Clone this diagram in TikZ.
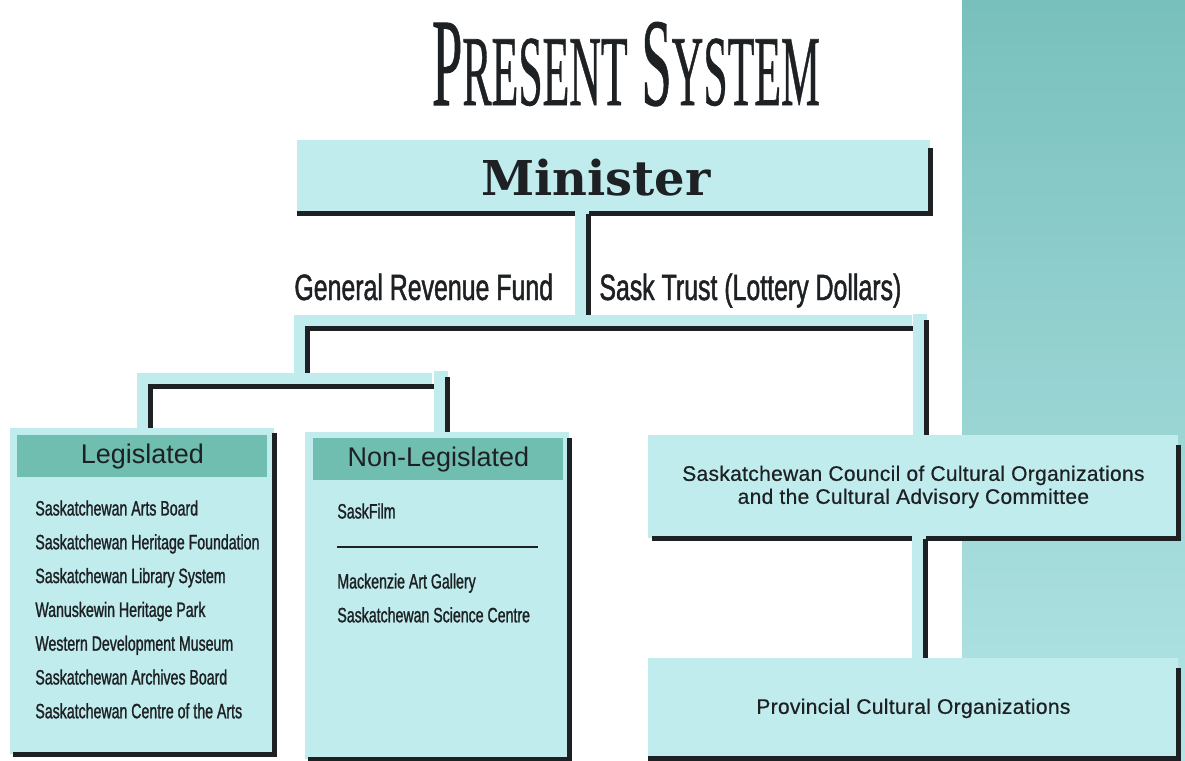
\documentclass[tikz,border=0pt]{standalone}
\usepackage{fontspec}
\usepackage{graphicx}
\usepackage{tikz}

\setmainfont{Liberation Sans}
\newfontfamily\titlefont[FakeBold=0.8]{Liberation Serif}
\newfontfamily\ministerfont{DejaVu Serif}
\newfontfamily\narrowfont[FakeStretch=0.68, FakeBold=1.2]{Liberation Sans}
\newfontfamily\trackfont[LetterSpace=1.5, FakeBold=0.6]{Liberation Sans}

\definecolor{boxcyan}{RGB}{192,236,238}
\definecolor{headteal}{RGB}{112,190,176}
\definecolor{bandtop}{RGB}{120,192,188}
\definecolor{bandlow}{RGB}{180,229,230}
\definecolor{ink}{RGB}{30,33,35}

\tikzset{
	box/.style={fill=boxcyan, inner sep=0pt, anchor=north west},
	headbar/.style={fill=headteal, inner sep=0pt, anchor=north west, minimum width=125pt, minimum height=21pt, text=ink, font=\fontsize{13.5pt}{16pt}\selectfont},
	boxedge/.style={draw=ink, line width=2.5pt},
	linkbar/.style={draw=ink, line width=2.5pt, preaction={draw=boxcyan, line width=7pt, shorten >=-3pt, transform canvas={shift={(-3pt,3pt)}}}},
	itemlist/.style={anchor=north west, inner sep=0pt, align=left, text=ink, font=\narrowfont\fontsize{10.4pt}{16.9pt}\selectfont},
	fundlabel/.style={anchor=base west, inner sep=0pt, text=ink, font=\narrowfont\fontsize{18.3pt}{20pt}\selectfont},
}

\begin{document}
\begin{tikzpicture}[x=0.5pt, y=-0.5pt]
					\fill[white] (0,0) rectangle (1185,761);
					\useasboundingbox (0,0) rectangle (1185,761);
					\fill[top color=bandtop, bottom color=bandlow] (962,0) rectangle (1185,761);

					% title
					\node[anchor=base, inner sep=0pt, text=ink] (title) at (626,105) {\resizebox{194pt}{41.5pt}{\titlefont\fontsize{40pt}{40pt}\selectfont P\fontsize{32pt}{32pt}\selectfont RESENT\fontsize{40pt}{40pt}\selectfont\ S\fontsize{32pt}{32pt}\selectfont YSTEM}};

					% boxes
					\node[box, minimum width=316.5pt, minimum height=36.5pt] (minister) at (297,140) {};
					\node[anchor=base, text=ink, font=\ministerfont\bfseries\fontsize{24pt}{28pt}\selectfont] (ministertext) at (596,195) {Minister};

					\node[box, minimum width=132pt, minimum height=163pt] (legis) at (10,428) {};
					\node[headbar] (legishead) at (17,435) {Legislated};
					\node[itemlist] (legislist) at (35,500) {Saskatchewan Arts Board\\Saskatchewan Heritage Foundation\\Saskatchewan Library System\\Wanuskewin Heritage Park\\Western Development Museum\\Saskatchewan Archives Board\\Saskatchewan Centre of the Arts};

					\node[box, minimum width=132pt, minimum height=163.5pt] (nonleg) at (305,432) {};
					\node[headbar] (nonleghead) at (313,438) {Non-Legislated};
					\node[itemlist] (saskfilm) at (337,503) {SaskFilm};
					\draw[ink, line width=0.8pt] (337,547) -- (538,547);
					\node[itemlist] (gallery) at (337,573) {Mackenzie Art Gallery\\Saskatchewan Science Centre};

					\node[box, minimum width=265pt, minimum height=51.5pt, align=center, text=ink, font=\trackfont\fontsize{10.5pt}{11.5pt}\selectfont] (council) at (648,435) {Saskatchewan Council of Cultural Organizations\\and the Cultural Advisory Committee};
					\node[box, minimum width=265pt, minimum height=50pt, text=ink, font=\trackfont\fontsize{10.5pt}{11.5pt}\selectfont] (provinc) at (648,658) {Provincial Cultural Organizations};

					\draw[boxedge] ([yshift=-4pt]minister.north east) -- (minister.south east) -- (minister.south west);
					\draw[boxedge] ([yshift=-2.5pt]legis.north east) -- (legis.south east) -- ([xshift=1.5pt]legis.south west);
					\draw[boxedge] ([yshift=-3pt]nonleg.north east) -- (nonleg.south east) -- ([xshift=1.5pt]nonleg.south west);
					\draw[boxedge] ([yshift=-5pt]council.north east) -- (council.south east) -- ([xshift=2pt]council.south west);
					\draw[boxedge] ([yshift=-5pt]provinc.north east) -- (provinc.south east) -- (provinc.south west);

					% fund labels
					\node[fundlabel] (general) at (294,300) {General Revenue Fund};
					\node[fundlabel] (trust) at (599,300) {Sask Trust (Lottery Dollars)};

					% connectors
					\coordinate (trunk) at (588,316);
					\coordinate (branch) at (307,373);
					\coordinate (mainR) at (918,328);
					\coordinate (mainRtop) at (926,320);
					\coordinate (subL) at (150,386);
					\coordinate (subR) at (438,386);
					\coordinate (subRtop) at (447,377);
					\coordinate (drop) at (925,600);

					\draw[linkbar] (trunk |- minister.south) -- (trunk);
					\draw[linkbar] (mainR) -| (branch);
					\draw[linkbar] (mainRtop) -- (mainRtop |- council.north);
					\draw[linkbar] (subR) -- (subL) -- (legis.north -| subL);
					\draw[linkbar] (subRtop) -- (subRtop |- nonleg.north);
					\draw[linkbar] (drop |- council.south) -- (drop |- provinc.north);
                \end{tikzpicture}
\end{document}
